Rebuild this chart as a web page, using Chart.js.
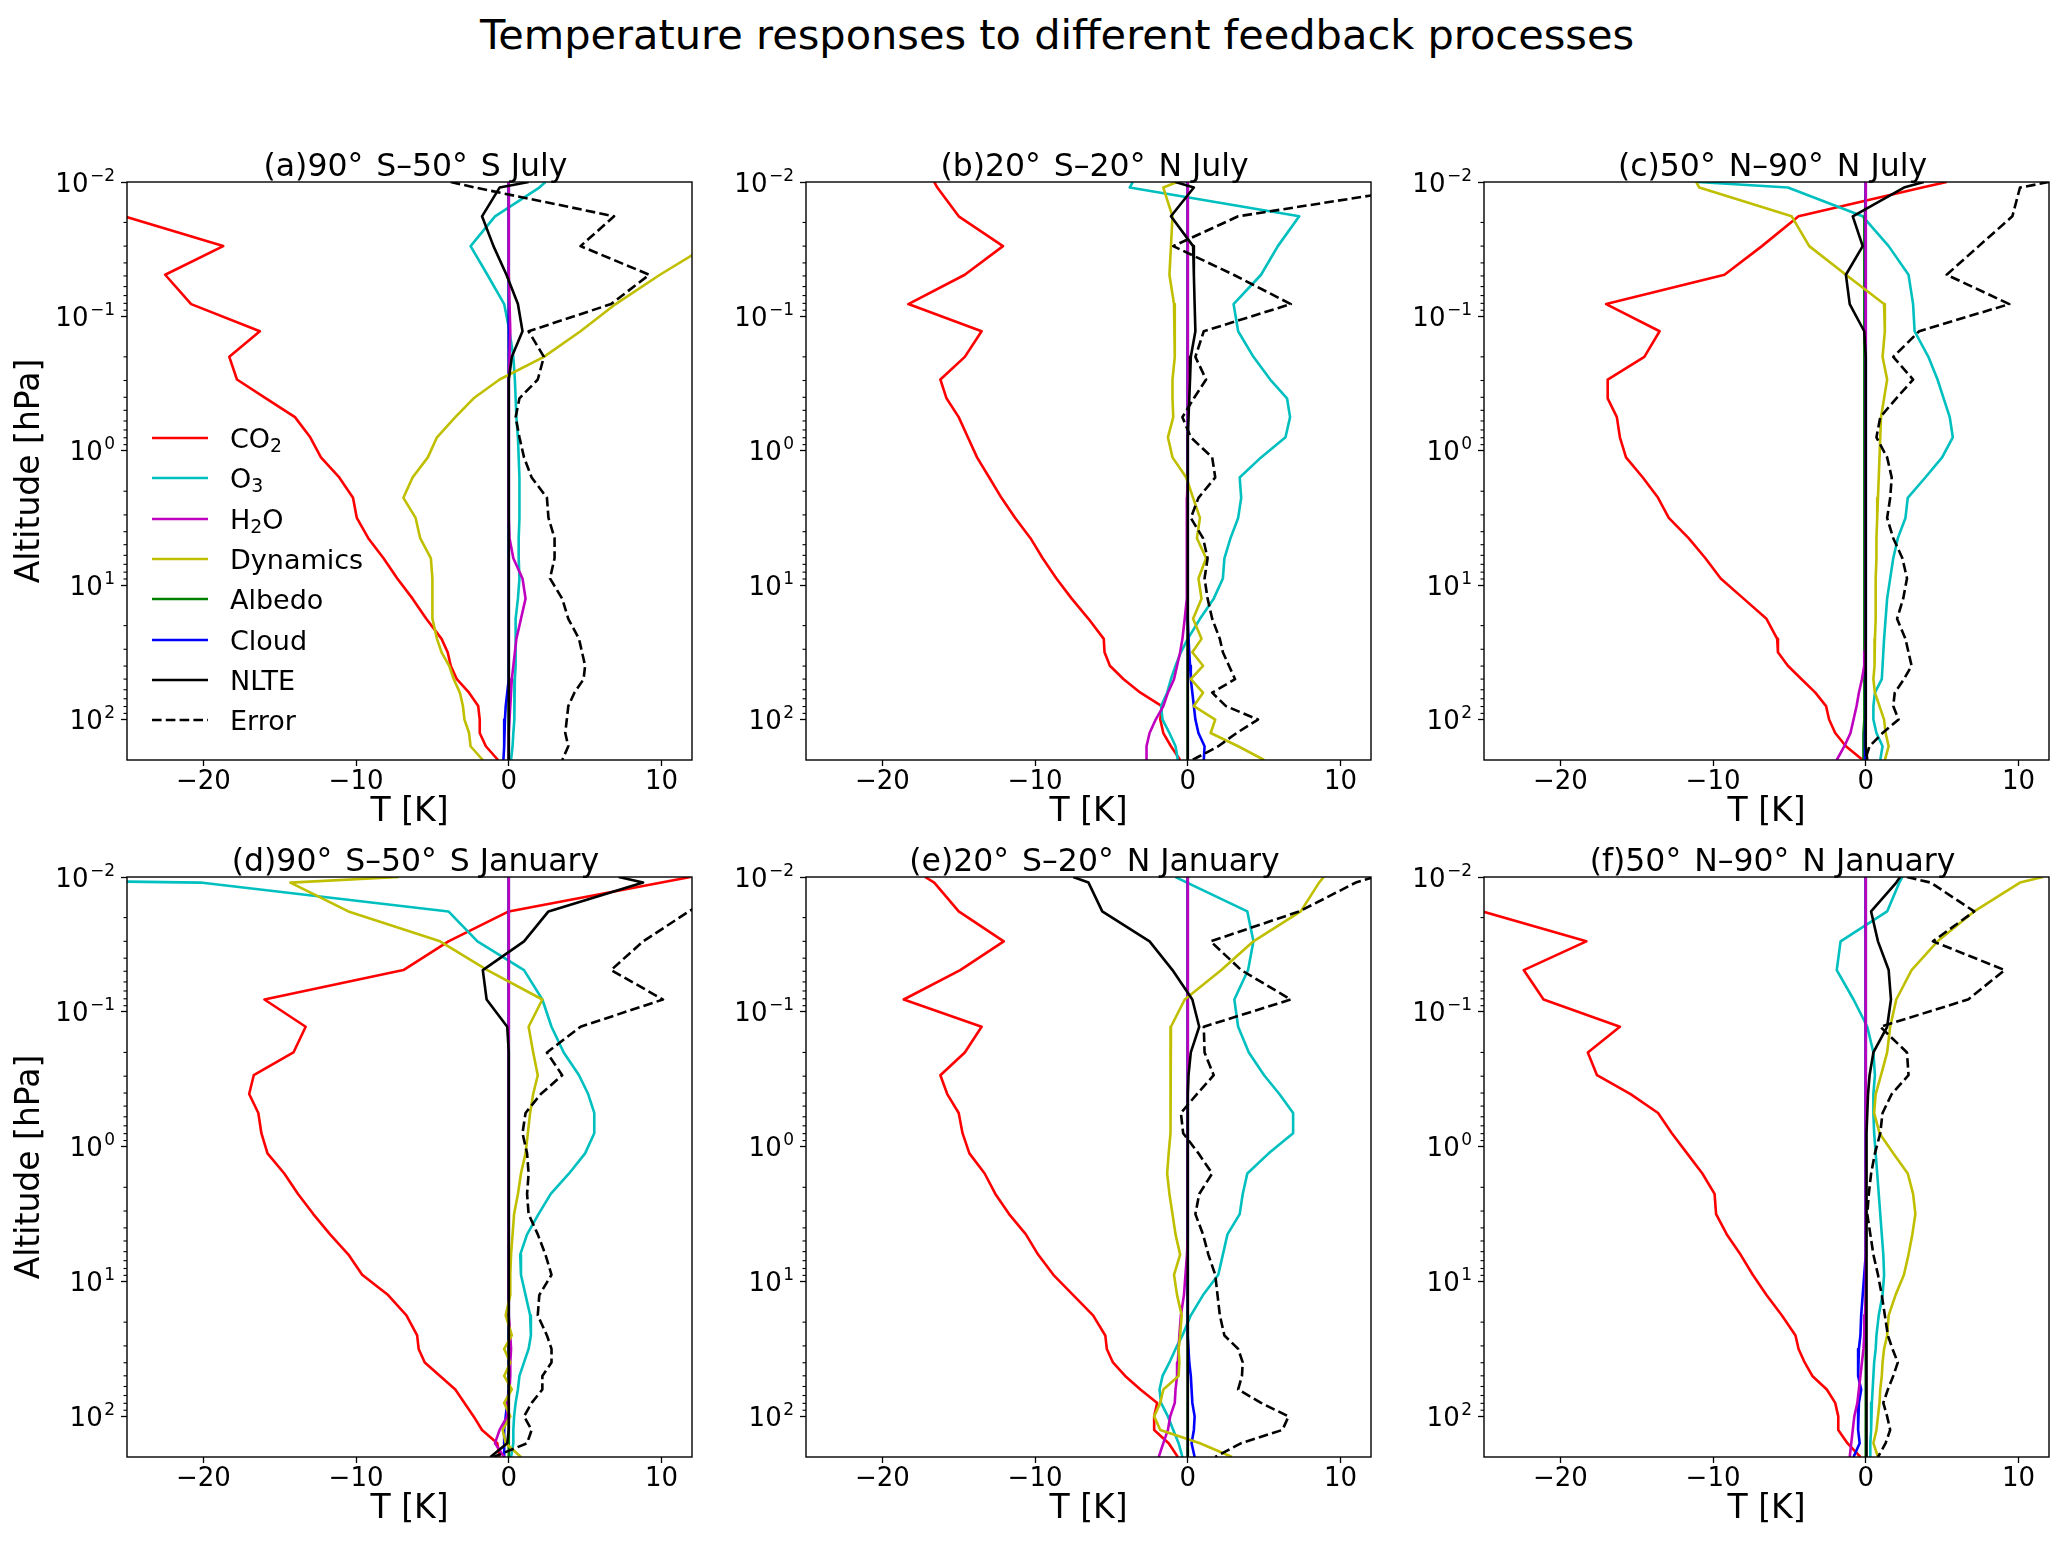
<!DOCTYPE html>
<html>
<head>
<meta charset="utf-8">
<script src="https://cdn.jsdelivr.net/npm/chart.js@4.4.1/dist/chart.umd.min.js"></script>
<style>
  html, body { margin: 0; padding: 0; background: #fff; }
  #fig { position: relative; width: 2067px; height: 1543px; overflow: hidden; font-family: "DejaVu Sans", sans-serif; color: #000; }
  #fig canvas { position: absolute; }
  .suptitle { position: absolute; left: 57px; width: 2000px; top: 14px; font-size: 41.5px; line-height: 41.5px; text-align: center; white-space: nowrap; }
  .ptitle { position: absolute; width: 800px; font-size: 31.5px; line-height: 31.5px; text-align: center; white-space: nowrap; }
  .ptitle .deg { margin-right: 3px; }
  .legtext { position: absolute; font-size: 27px; line-height: 27px; white-space: nowrap; }
  .legtext sub { font-size: 0.7em; line-height: 0; vertical-align: -0.22em; }
  .legline { position: absolute; }
</style>
</head>
<body>
<div id="fig">
  <div class="suptitle">Temperature responses to different feedback processes</div>
</div>
<script>
// pressure levels (hPa), shared by all profiles
const pressure = [0.01, 0.011, 0.018, 0.03, 0.049, 0.081, 0.129, 0.2, 0.295, 0.407, 0.562, 0.794, 1.12, 1.58, 2.24, 3.16, 4.47, 6.31, 8.91, 12.6, 17.8, 25.1, 31.6, 39.8, 50.1, 63.1, 79.4, 100, 126, 158, 200];

const seriesNames = ['CO2', 'O3', 'H2O', 'Dynamics', 'Albedo', 'Cloud', 'NLTE', 'Error'];
const seriesLabels = ['CO<sub>2</sub>', 'O<sub>3</sub>', 'H<sub>2</sub>O', 'Dynamics', 'Albedo', 'Cloud', 'NLTE', 'Error'];
const seriesColors = ['#ff0000', '#00bfbf', '#bf00bf', '#bfbf00', '#008000', '#0000ff', '#000000', '#000000'];
// stacking of the lines, bottom first (H2O sits above Albedo/Cloud, NLTE above H2O)
const drawOrder = [0, 1, 4, 5, 2, 3, 6, 7];

const panelTitles = ['(a)90° S–50° S July', '(b)20° S–20° N July', '(c)50° N–90° N July',
                     '(d)90° S–50° S January', '(e)20° S–20° N January', '(f)50° N–90° N January'];

const xTicks = [-20, -10, 0, 10];
const yTicks = [0.01, 0.1, 1, 10, 100];
const yTickExps = ['\u22122', '\u22121', '0', '1', '2'];

// (a) 90S-50S July
const aCO2 = [-34, -33, -25.2, -18.7, -22.5, -20.8, -16.3, -18.3, -17.8, -15.9, -14.0, -13.0, -12.3, -11.1, -10.2, -9.95, -9.2, -8.2, -7.3, -6.3, -5.4, -4.4, -4.0, -3.8, -3.4, -2.6, -2.0, -1.9, -1.9, -1.5, -0.7];
const aO3 = [2.4, 2.0, -0.9, -2.5, -1.4, -0.3, 0.05, 0.3, 0.4, 0.45, 0.5, 0.6, 0.65, 0.7, 0.7, 0.7, 0.65, 0.65, 0.7, 0.6, 0.45, 0.45, 0.45, 0.45, 0.4, 0.4, 0.35, 0.35, 0.3, 0.25, 0.15];
const aH2O = [0, 0, 0, 0, 0, 0.05, 0.1, 0.05, 0, 0, 0, 0, 0, 0, 0, 0, 0.05, 0.3, 0.9, 1.1, 0.8, 0.5, 0.4, 0.3, 0.2, 0.15, 0.1, 0.05, 0, 0, 0];
const aDyn = [19.5, 19, 16, 13, 9.9, 7.0, 4.7, 2.3, -0.6, -2.3, -3.5, -4.7, -5.3, -6.3, -6.9, -6.1, -5.8, -5.1, -5.0, -5.0, -5.0, -4.7, -4.4, -3.9, -3.6, -3.2, -3.0, -2.9, -2.6, -2.5, -1.7];
const aAlb = [0, 0, 0, 0, 0, 0, 0, 0, 0, 0, 0, 0, 0, 0, 0, 0, 0, 0, 0, 0, 0, 0, 0, 0, 0, 0, 0, 0, 0, 0, 0];
const aCloud = [0, 0, 0, 0, 0, 0, 0, 0, 0, 0, 0, 0, 0, 0, 0, 0, 0, 0, 0, 0, 0, 0, 0, 0, 0, -0.1, -0.2, -0.25, -0.3, -0.3, -0.35];
const aNLTE = [1.3, -0.6, -1.75, -1.0, -0.15, 0.6, 0.9, 0.2, 0, 0, 0, 0, 0, 0, 0, 0, 0, 0, 0, 0, 0, 0, 0, 0, 0, 0, 0, 0, 0, 0, 0];
const aErr = [-3.8, -2.2, 6.9, 4.7, 9.2, 6.7, 1.3, 2.3, 1.9, 0.7, 0.45, 0.7, 1.0, 1.5, 2.5, 2.6, 3.0, 3.0, 2.7, 3.5, 3.9, 4.6, 4.8, 5.0, 4.9, 4.3, 3.9, 3.8, 3.7, 3.9, 3.5];

// (b) 20S-20N July
const bCO2 = [-16.6, -16.4, -15.0, -12.1, -14.6, -18.3, -13.5, -14.6, -16.2, -15.8, -15.0, -14.4, -13.8, -13.0, -12.2, -11.3, -10.3, -9.5, -8.6, -7.6, -6.5, -5.5, -5.45, -5.1, -4.2, -3.1, -1.7, -1.8, -1.6, -1.1, -0.5];
const bO3 = [-3.6, -3.8, 7.3, 5.9, 4.8, 3.0, 3.3, 4.3, 5.4, 6.5, 6.7, 6.4, 4.8, 3.4, 3.5, 3.3, 2.8, 2.4, 2.3, 1.7, 0.8, 0.0, -0.45, -0.8, -1.1, -1.35, -1.75, -1.65, -1.2, -0.8, -0.65];
const bH2O = [0, 0, 0, 0, 0, 0, 0, 0, 0, 0, 0, 0, 0, 0, -0.05, -0.05, -0.05, -0.05, -0.05, -0.1, -0.2, -0.35, -0.5, -0.7, -0.9, -1.3, -1.6, -2.1, -2.5, -2.7, -2.7];
const bDyn = [-0.7, -1.6, -1.0, -1.1, -1.2, -0.9, -0.85, -0.85, -1.0, -1.0, -0.95, -1.3, -1.0, -0.1, 0.35, 0.8, 0.6, 1.2, 0.7, 0.9, 0.35, 0.9, 0.3, 1.0, 0.2, 1.0, 0.4, 1.8, 1.5, 3.3, 5.0];
const bAlb = [0, 0, 0, 0, 0, 0, 0, 0, 0, 0, 0, 0, 0, 0, 0, 0, 0, 0, 0, 0, 0, 0, 0, 0, 0, 0, 0, 0, 0, 0, 0];
const bCloud = [0, 0, 0, 0, 0, 0, 0, 0, 0, 0, 0, 0, 0, 0, 0, 0, 0, 0, 0, 0, 0, 0.05, 0.1, 0.15, 0.2, 0.3, 0.4, 0.5, 0.7, 1.1, 1.05];
const bNLTE = [-0.8, 0.4, -1.1, 0.35, 0.4, 0.45, 0.5, 0.2, 0.15, 0.1, 0.05, 0, 0, 0, 0, 0, 0, 0, 0, 0, 0, 0, 0, 0, 0, 0, 0, 0, 0, 0, 0];
const bErr = [17.6, 15.3, 3.3, -0.95, 3.0, 6.75, 1.05, 0.5, 1.2, 0.4, -0.35, 0.2, 1.6, 1.8, 0.7, 0.2, 1.0, 1.3, 1.1, 1.3, 1.6, 2.1, 2.3, 2.7, 3.1, 1.6, 2.5, 4.6, 3.2, 2.0, 0.3];

// (c) 50N-90N July
const cCO2 = [5.3, 3.7, -4.4, -6.8, -9.25, -17.0, -13.5, -14.5, -16.9, -16.9, -16.3, -16.1, -15.7, -14.6, -13.6, -12.9, -11.6, -10.5, -9.5, -8.0, -6.5, -5.8, -5.75, -5.1, -4.2, -3.3, -2.6, -2.4, -2.0, -1.3, -0.2];
const cO3 = [-11.0, -5.1, -0.2, 1.5, 2.8, 3.1, 3.2, 4.1, 4.7, 5.1, 5.5, 5.7, 5.0, 3.9, 2.75, 2.6, 2.1, 1.8, 1.6, 1.4, 1.3, 1.2, 1.15, 1.1, 1.05, 0.6, 0.5, 0.5, 0.7, 1.1, 0.95];
const cH2O = [0, 0, 0, 0, 0, 0, 0, 0, 0, 0, 0, 0, 0, 0, 0, 0, 0, 0, 0, 0, 0, 0, -0.05, -0.1, -0.25, -0.45, -0.6, -0.8, -1.0, -1.4, -1.9];
const cDyn = [-11.1, -10.9, -4.85, -3.7, -1.3, 1.2, 1.25, 1.1, 1.4, 1.2, 1.0, 0.95, 0.9, 0.85, 0.8, 0.75, 0.7, 0.7, 0.65, 0.65, 0.65, 0.6, 0.6, 0.55, 0.5, 0.6, 0.9, 1.2, 1.3, 1.5, 1.25];
const cAlb = [0, 0, -0.05, -0.05, -0.05, -0.05, -0.05, -0.1, -0.1, -0.1, -0.1, -0.1, -0.1, -0.1, -0.1, -0.1, -0.1, -0.1, -0.1, -0.1, -0.1, -0.1, -0.1, -0.1, -0.1, -0.1, -0.1, -0.1, -0.15, -0.15, -0.15];
const cCloud = [0, 0, 0, 0, 0, 0, 0, 0, 0, 0, 0, 0, 0, 0, 0, 0, 0, 0, 0, 0, 0, 0, 0, 0, 0, 0, 0, 0, -0.05, -0.05, -0.05];
const cNLTE = [3.8, 2.5, -0.85, -0.2, -1.3, -1.05, -0.1, 0, 0, 0, 0, 0, 0, 0, 0, 0, 0, 0, 0, 0, 0, 0, 0, 0, 0, 0, 0, 0, 0, 0, 0.1];
const cErr = [12.0, 10.1, 9.6, 7.4, 5.3, 9.4, 3.5, 1.8, 3.1, 2.0, 0.95, 0.7, 1.4, 1.7, 1.6, 1.4, 1.8, 2.4, 2.7, 2.45, 2.05, 2.6, 2.8, 3.0, 2.5, 1.9, 1.8, 2.15, 1.1, 0.25, -0.05];

// (d) 90S-50S January
const dCO2 = [11.9, 10.0, 0, -3.95, -6.9, -16.0, -13.3, -14.1, -16.7, -17.0, -16.4, -16.2, -15.8, -14.7, -13.8, -12.8, -11.7, -10.5, -9.6, -7.9, -6.7, -6.0, -5.9, -5.5, -4.5, -3.5, -2.9, -2.3, -1.75, -0.75, -0.6];
const dO3 = [-49, -20.2, -3.95, -2.05, 1.0, 2.2, 2.8, 3.6, 4.6, 5.2, 5.6, 5.6, 5.0, 3.95, 2.75, 1.95, 1.2, 0.75, 0.8, 1.1, 1.4, 1.45, 1.3, 1.0, 0.7, 0.6, 0.45, 0.35, 0.3, 0.3, 0.15];
const dH2O = [0, 0, 0, 0, 0, 0, 0, 0, 0, 0, 0, 0, 0, 0, 0, 0, 0, 0, 0, 0, 0, 0.1, 0.15, 0.1, 0.1, 0.05, -0.05, -0.1, -0.6, -0.9, -0.3];
const dDyn = [-7.2, -14.3, -10.5, -4.5, -1.4, 2.2, 1.3, 1.6, 1.9, 1.6, 1.4, 1.25, 1.1, 0.8, 0.6, 0.35, 0.25, 0.15, 0.1, 0.1, -0.2, 0.2, -0.3, 0.1, -0.3, 0.2, -0.3, 0.1, -0.4, -0.2, 0.8];
const dAlb = [0, 0, 0, 0, 0, 0, 0, 0, 0, 0, 0, 0, 0, 0, 0, 0, 0, 0, 0, 0, 0, 0, 0, 0, 0, 0, 0, 0, 0, 0, 0];
const dCloud = [0, 0, 0, 0, 0, 0, 0, 0, 0, 0, 0, 0, 0, 0, 0, 0, 0, 0, 0, 0, 0, 0, 0, 0, 0, 0, -0.1, -0.2, -0.3, -0.3, -0.3];
const dNLTE = [7.2, 8.8, 2.6, 1.0, -1.7, -1.45, -0.1, 0, 0, 0, 0, 0, 0, 0, 0, 0, 0, 0, 0, 0, 0, 0, 0, 0, 0, 0, 0, 0, 0, -0.1, -1.2];
const dErr = [15.5, 15.0, 11.8, 8.8, 6.7, 10.1, 4.7, 2.5, 3.5, 2.1, 1.1, 0.9, 1.2, 1.3, 1.2, 1.3, 1.9, 2.4, 2.8, 2.0, 1.9, 2.5, 2.8, 2.8, 2.2, 2.2, 1.5, 1.0, 1.5, 1.2, -1.0];

// (e) 20S-20N January
const eCO2 = [-17.2, -16.6, -15.0, -12.05, -14.9, -18.6, -13.5, -14.6, -16.2, -15.75, -15.0, -14.75, -14.3, -13.3, -12.6, -11.7, -10.6, -9.8, -8.8, -7.5, -6.2, -5.4, -5.3, -4.9, -4.1, -3.1, -2.0, -2.2, -2.2, -1.25, -0.65];
const eO3 = [-0.8, -0.05, 3.9, 4.3, 3.95, 3.05, 3.3, 4.0, 5.0, 6.0, 6.9, 6.9, 5.3, 3.9, 3.6, 3.4, 2.6, 2.3, 2.0, 1.0, 0.2, -0.35, -0.8, -1.2, -1.65, -1.85, -1.75, -1.3, -0.95, -0.6, -0.35];
const eH2O = [0, 0, 0, 0, 0, 0, 0, 0, 0, 0, 0, 0, 0, 0, 0, 0, 0, -0.05, -0.15, -0.25, -0.45, -0.55, -0.6, -0.65, -0.7, -0.8, -0.85, -1.15, -1.3, -1.6, -1.9];
const eDyn = [8.9, 8.6, 7.4, 4.3, 2.2, -0.2, -1.1, -1.1, -1.15, -1.15, -1.15, -1.1, -1.25, -1.35, -1.2, -1.0, -0.8, -0.5, -0.9, -0.7, -0.4, -0.5, -0.6, -0.55, -0.6, -1.6, -1.8, -2.2, -1.8, 0.8, 2.9];
const eAlb = [0, 0, 0, 0, 0, 0, 0, 0, 0, 0, 0, 0, 0, 0, 0, 0, 0, 0, 0, 0, 0, 0, 0, 0, 0, 0, 0, 0, 0, 0, 0];
const eCloud = [0, 0, 0, 0, 0, 0, 0, 0, 0, 0, 0, 0, 0, 0, 0, 0, 0, 0, 0, 0, 0, 0, 0.05, 0.1, 0.2, 0.25, 0.3, 0.45, 0.4, 0.25, 0.45];
const eNLTE = [-7.5, -6.5, -5.6, -2.5, -1.0, 0.3, 0.75, 0.2, 0.05, 0, 0, 0, 0, 0, 0, 0, 0, 0, 0, 0, 0, 0, 0, 0, 0, 0, 0, 0, 0, 0, 0];
const eErr = [12.2, 11.0, 7.3, 1.5, 3.5, 6.75, 1.05, 1.1, 1.7, 0.6, -0.45, -0.3, 0.7, 1.6, 0.75, 0.5, 1.0, 1.35, 1.8, 1.95, 2.1, 2.4, 3.3, 3.6, 3.55, 3.3, 4.8, 6.6, 6.2, 3.5, 1.8];

// (f) 50N-90N January
const fCO2 = [-33.2, -31.9, -25.1, -18.3, -22.4, -21.1, -16.1, -18.2, -17.6, -15.4, -13.6, -12.7, -11.7, -10.7, -9.9, -9.8, -9.1, -8.2, -7.4, -6.5, -5.5, -4.6, -4.4, -4.0, -3.5, -2.55, -2.0, -1.8, -1.8, -1.2, -0.35];
const fO3 = [2.4, 2.2, 1.4, -1.65, -1.9, -0.8, 0.1, 0.5, 0.6, 0.5, 0.5, 0.55, 0.65, 0.75, 0.85, 0.95, 1.05, 1.15, 1.2, 1.1, 0.85, 0.7, 0.65, 0.55, 0.5, 0.45, 0.4, 0.35, 0.35, 0.3, 0.3];
const fH2O = [0, 0, 0, 0, 0, 0, 0, 0, 0, 0, 0, 0, 0, 0, 0, 0, 0, 0, 0, 0, -0.05, -0.1, -0.15, -0.25, -0.35, -0.45, -0.55, -0.75, -0.85, -0.95, -1.05];
const fDyn = [11.6, 10.1, 7.1, 4.7, 3.0, 2.0, 1.6, 1.4, 1.0, 0.65, 0.55, 0.9, 1.8, 2.75, 3.1, 3.25, 3.05, 2.8, 2.5, 1.95, 1.5, 1.4, 1.2, 1.1, 1.05, 0.95, 0.9, 0.8, 0.7, 0.5, 0.8];
const fAlb = [0, 0, 0, 0, 0, 0, 0, 0, 0, 0, 0, 0, 0, 0, 0, 0, 0, 0, 0, 0, 0, 0, 0, 0, 0, 0, 0, 0, 0, 0, 0];
const fCloud = [0, 0, 0, 0, 0, 0, 0, 0, 0, 0, 0, 0, 0, 0, 0, 0, 0, 0, -0.1, -0.2, -0.3, -0.35, -0.45, -0.5, -0.5, -0.3, -0.45, -0.5, -0.5, -0.4, -0.8];
const fNLTE = [2.25, 2.0, 0.35, 0.8, 1.5, 1.65, 1.4, 0.5, 0.25, 0.15, 0.1, 0.05, 0.05, 0.05, 0.05, 0.05, 0.05, 0.05, 0.05, 0.05, 0.05, 0.05, 0.05, 0.05, 0.05, 0.05, 0.05, 0.05, 0.05, 0.05, 0.05];
const fErr = [2.7, 4.25, 7.1, 4.4, 9.1, 6.7, 0.95, 2.7, 2.8, 1.7, 1.1, 0.95, 0.6, 0.35, 0.2, 0.1, 0.3, 0.5, 0.8, 1.05, 1.25, 1.45, 1.75, 2.1, 1.8, 1.45, 1.15, 1.4, 1.6, 1.3, 0.8];

const panels = [
    [aCO2, aO3, aH2O, aDyn, aAlb, aCloud, aNLTE, aErr],
    [bCO2, bO3, bH2O, bDyn, bAlb, bCloud, bNLTE, bErr],
    [cCO2, cO3, cH2O, cDyn, cAlb, cCloud, cNLTE, cErr],
    [dCO2, dO3, dH2O, dDyn, dAlb, dCloud, dNLTE, dErr],
    [eCO2, eO3, eH2O, eDyn, eAlb, eCloud, eNLTE, eErr],
    [fCO2, fO3, fH2O, fDyn, fAlb, fCloud, fNLTE, fErr]
];

// layout of the axes boxes in page pixels
const axLeft = [127, 806, 1484];
const axTop = [182, 877];
const axW = 565;
const axH = [578, 580];
const LW = 2.6;
const DASH = [9.6, 4.2];
const FONT = "'DejaVu Sans', sans-serif";

Chart.defaults.font.family = FONT;
Chart.defaults.color = '#000';

const fig = document.getElementById('fig');

// minor ticks of the log axis
const yMinor = [];
for (let e = -2; e <= 2; e++) {
    for (let k = 2; k <= 9; k++) {
        const v = k * Math.pow(10, e);
        if (v < 200) yMinor.push(v);
    }
}

// box, minor ticks and 10^n labels of the pressure axis
const axesFrame = {
    id: 'axesFrame',
    afterDatasetsDraw(chart) {
        const {ctx, chartArea: a} = chart;
        const y = chart.scales.y;
        ctx.save();
        ctx.strokeStyle = '#000';
        ctx.lineWidth = 1.1;
        yMinor.forEach(v => {
            const py = y.getPixelForValue(v);
            ctx.beginPath();
            ctx.moveTo(a.left - 3.5, py);
            ctx.lineTo(a.left, py);
            ctx.stroke();
        });
        ctx.lineWidth = 1.4;
        ctx.strokeRect(a.left, a.top, a.right - a.left, a.bottom - a.top);

        ctx.fillStyle = '#000';
        ctx.textAlign = 'right';
        ctx.textBaseline = 'alphabetic';
        const xr = a.left - 12;
        yTicks.forEach((v, i) => {
            const base = y.getPixelForValue(v) + 9.5;
            ctx.font = '17px ' + FONT;
            ctx.fillText(yTickExps[i], xr, base - 11);
            const ew = ctx.measureText(yTickExps[i]).width;
            ctx.font = '26px ' + FONT;
            ctx.fillText('10', xr - ew - 1.5, base);
        });
        ctx.restore();
    }
};

function fmtX(v) {
    return v < 0 ? '\u2212' + Math.abs(v) : String(v);
}

panels.forEach((series, p) => {
    const col = p % 3;
    const row = Math.floor(p / 3);
    const yW = col === 0 ? 127 : 90;
    const cw = yW + axW + 20;
    const ch = 20 + axH[row] + 80;

    const canvas = document.createElement('canvas');
    canvas.width = cw;
    canvas.height = ch;
    canvas.style.left = (axLeft[col] - yW) + 'px';
    canvas.style.top = (axTop[row] - 20) + 'px';
    fig.appendChild(canvas);

    const t = document.createElement('div');
    t.className = 'ptitle';
    t.innerHTML = panelTitles[p].replace(/°/g, '<span class="deg">°</span>');
    t.style.left = (axLeft[col] + axW / 2 + 6 - 400) + 'px';
    t.style.top = (row === 0 ? 150 : 845) + 'px';
    fig.appendChild(t);

    // Chart.js puts the first dataset on top, so list them top-most first
    const datasets = drawOrder.slice().reverse().map(i => ({
        label: seriesNames[i],
        data: series[i].map((v, k) => ({x: v, y: pressure[k]})),
        borderColor: seriesColors[i],
        borderWidth: LW,
        borderDash: seriesNames[i] === 'Error' ? DASH : [],
        borderJoinStyle: 'round',
        pointRadius: 0,
        fill: false,
        tension: 0,
        clip: 0
    }));

    new Chart(canvas, {
        type: 'line',
        data: {datasets},
        options: {
            responsive: false,
            animation: false,
            devicePixelRatio: 1,
            indexAxis: 'y',
            layout: {padding: {top: 20, right: 20, left: 0, bottom: 0}},
            plugins: {legend: {display: false}, tooltip: {enabled: false}},
            scales: {
                x: {
                    type: 'linear',
                    position: 'bottom',
                    min: -25,
                    max: 12,
                    afterBuildTicks: s => { s.ticks = xTicks.map(v => ({value: v})); },
                    afterFit: s => { s.height = 80; },
                    ticks: {font: {size: 26}, color: '#000', padding: 1, maxRotation: 0, callback: v => fmtX(v)},
                    grid: {drawOnChartArea: false, drawTicks: true, tickLength: 6, tickColor: '#000', tickWidth: 1.3},
                    border: {display: false},
                    title: {display: true, text: 'T [K]', font: {size: 33}, color: '#000', padding: {top: 0, bottom: 8}}
                },
                y: {
                    type: 'logarithmic',
                    position: 'left',
                    min: 0.01,
                    max: 200,
                    reverse: true,
                    afterBuildTicks: s => { s.ticks = yTicks.map(v => ({value: v, major: true})); },
                    afterFit: s => { s.width = yW; },
                    ticks: {display: false},
                    grid: {drawOnChartArea: false, drawTicks: true, tickLength: 6, tickColor: '#000', tickWidth: 1.3},
                    border: {display: false},
                    title: {display: col === 0, text: 'Altitude [hPa]', font: {size: 33}, color: '#000', padding: {top: 11, bottom: 0}}
                }
            }
        },
        plugins: [axesFrame]
    });
});

// legend inside panel (a)
const legX = 152, legLen = 56, legTextX = 230, legY0 = 438, legStep = 40.3;
seriesNames.forEach((name, i) => {
    const cy = legY0 + i * legStep;
    const svgNS = 'http://www.w3.org/2000/svg';
    const svg = document.createElementNS(svgNS, 'svg');
    svg.setAttribute('class', 'legline');
    svg.setAttribute('width', legLen);
    svg.setAttribute('height', 10);
    svg.style.left = legX + 'px';
    svg.style.top = (cy - 5) + 'px';
    const ln = document.createElementNS(svgNS, 'line');
    ln.setAttribute('x1', 0);
    ln.setAttribute('y1', 5);
    ln.setAttribute('x2', legLen);
    ln.setAttribute('y2', 5);
    ln.setAttribute('stroke', seriesColors[i]);
    ln.setAttribute('stroke-width', LW);
    if (name === 'Error') ln.setAttribute('stroke-dasharray', DASH.join(' '));
    svg.appendChild(ln);
    fig.appendChild(svg);

    const tx = document.createElement('div');
    tx.className = 'legtext';
    tx.innerHTML = seriesLabels[i];
    tx.style.left = legTextX + 'px';
    tx.style.top = (cy - 13) + 'px';
    fig.appendChild(tx);
});
</script>
</body>
</html>
